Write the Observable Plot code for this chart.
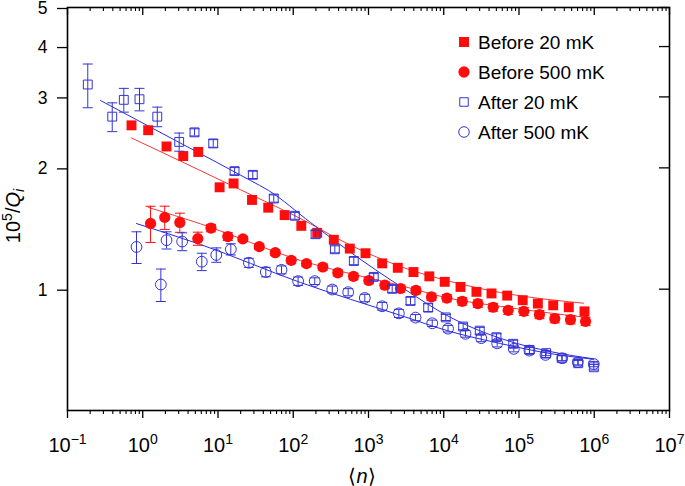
<!DOCTYPE html>
<html><head><meta charset="utf-8">
<script src="https://cdn.jsdelivr.net/npm/d3@7"></script>
<script src="https://cdn.jsdelivr.net/npm/@observablehq/plot@0.6"></script>
<style>
body{margin:0;background:#fff}
#chart svg{font-family:"Liberation Sans",Arial,Helvetica,sans-serif}
</style>
</head><body><div id="chart"></div>
<script>
// ---- data ----
const before20N = [0.709,1.18,2.07,3.45,5.46,10.5,16.1,28.3,46.5,76.9,128,208,346,564,912,1520,2450,3960,6430,10300,16700,27200,43100,69700,112000,178000,285000,459000,742000];
const before20Q = [2.55,2.48,2.26,2.14,2.19,1.79,1.83,1.665,1.593,1.527,1.436,1.380,1.326,1.261,1.228,1.159,1.130,1.103,1.076,1.043,1.013,0.985,0.976,0.964,0.939,0.921,0.912,0.902,0.881];

const before500N = [1.27,1.96,3.11,5.39,8.07,13.5,21.4,35.3,57.7,94.0,150,247,391,632,1010,1650,2660,4270,6870,11000,17600,28400,45400,71800,116000,187000,299000,483000,766000];
const before500Q = [1.456,1.507,1.464,1.335,1.418,1.351,1.333,1.275,1.232,1.179,1.157,1.135,1.098,1.076,1.051,1.023,1.004,0.993,0.957,0.950,0.933,0.921,0.902,0.886,0.881,0.865,0.845,0.840,0.832];
const before500Err = [0.15,0.10,0.08,0.05,0.03,0.03,0.02,0.02,0.02,0.02,0.02,0.02,0.02,0.02,0.02,0.02,0.02,0.02,0.02,0.02,0.02,0.02,0.02,0.02,0.02,0.02,0.02,0.02,0.02];

const after20N = [0.186,0.393,0.56,0.905,1.56,3.05,4.87,8.64,16.6,29.0,55.1,105,198,357,638,1175,2065,3615,6210,10640,18100,30100,50200,83700,137700,229600,370700,612000,986000];
const after20Q = [3.22,2.68,2.95,2.96,2.68,2.32,2.45,2.30,1.963,1.922,1.679,1.521,1.369,1.256,1.175,1.073,1.002,0.935,0.900,0.851,0.808,0.789,0.760,0.732,0.707,0.694,0.674,0.655,0.640];
const after20Err = [0.40,0.22,0.20,0.19,0.15,0.12,0.05,0.05,0.04,0.04,0.035,0.03,0.03,0.025,0.025,0.02,0.02,0.02,0.02,0.015,0.015,0.015,0.015,0.015,0.015,0.01,0.01,0.01,0.01];

const after500N = [0.826,1.74,2.07,3.34,6.09,9.49,14.8,25.7,43.2,69.8,116,193,330,537,893,1520,2530,4220,7030,11400,19450,31500,51300,85300,137700,225000,375000,604000,986000];
const after500Q = [1.273,1.027,1.323,1.313,1.170,1.216,1.256,1.163,1.103,1.117,1.047,1.047,0.998,0.983,0.951,0.907,0.871,0.850,0.823,0.798,0.775,0.756,0.734,0.711,0.704,0.687,0.674,0.659,0.652];
const after500Err = [0.115,0.095,0.065,0.067,0.058,0.05,0.04,0.03,0.03,0.025,0.025,0.02,0.02,0.02,0.02,0.02,0.02,0.015,0.015,0.015,0.015,0.015,0.015,0.012,0.012,0.012,0.01,0.01,0.01];

// fit curves
const fitBefore20N = [0.709,19.9,169.5,342.7,2663,12300,56750,719400];
const fitBefore20Q = [2.373,1.765,1.453,1.351,1.138,1.045,0.981,0.923];
const fitBefore500N = [1.192,5.85,124.8,2663,12300,56750,765500];
const fitBefore500Q = [1.595,1.453,1.178,1.021,0.948,0.906,0.852];
const fitAfter20N = [0.2745,2.72,27.0,46.9,169.5,576,2663,12300,56750,262400,977000];
const fitAfter20Q = [2.939,2.339,1.861,1.758,1.464,1.235,1.016,0.851,0.755,0.700,0.672];
const fitAfter500N = [0.826,5.85,124.8,2663,12300,56750,262400,977000];
const fitAfter500Q = [1.455,1.291,1.039,0.861,0.785,0.733,0.692,0.670];

const xTickValues = [1e-1,1e0,1e1,1e2,1e3,1e4,1e5,1e6,1e7];
const xTickExps = ["−1","0","1","2","3","4","5","6","7"];
const yTickValues = [1,2,3,4,5];
const legendLabels = ["Before 20 mK","Before 500 mK","After 20 mK","After 500 mK"];

// ---- build ----
const red = "#ff0d0d", redLine = "#f23a3a", blue = "#3333d6", blueLine = "#2a2ae0";
const rows = (N, Q, E) => N.map((n, i) => ({n, q: Q[i], lo: Q[i] - (E ? E[i] : 0), hi: Q[i] + (E ? E[i] : 0)}));
const line = (N, Q) => N.map((n, i) => ({n, q: Q[i]}));
const b20 = rows(before20N, before20Q), b500 = rows(before500N, before500Q, before500Err);
const a20 = rows(after20N, after20Q, after20Err), a500 = rows(after500N, after500Q, after500Err);

const W = 685, H = 486, mL = 67, mR = 16, mT = 7, mB = 76;
const plotW = W - mL - mR, plotH = H - mT - mB;
const xMinor = d3.scaleLog().domain([0.1, 1e7]).ticks().filter(v => !xTickValues.some(t => Math.abs(t - v) / t < 1e-9));
const expOf = d => xTickExps[Math.round(Math.log10(d)) + 1];
const cap = {draw(ctx, size) { const w = Math.sqrt(size / Math.PI); ctx.moveTo(-w, 0); ctx.lineTo(w, 0); }};
const errMarks = (data, color) => [
  Plot.ruleX(data, {x: "n", y1: "lo", y2: "hi", stroke: color, strokeWidth: 1}),
  Plot.dot(data, {x: "n", y: "lo", symbol: cap, r: 5, stroke: color, strokeWidth: 1}),
  Plot.dot(data, {x: "n", y: "hi", symbol: cap, r: 5, stroke: color, strokeWidth: 1})
];

const chart = Plot.plot({
  width: W, height: H,
  marginLeft: mL, marginRight: mR, marginTop: mT, marginBottom: mB,
  style: {fontFamily: "'Liberation Sans', Arial, Helvetica, sans-serif", fontSize: "18px", background: "#fff", color: "#000"},
  x: {type: "log", domain: [0.1, 1e7]},
  y: {type: "log", domain: [0.5, 5]},
  marks: [
    Plot.line(line(fitBefore20N, fitBefore20Q), {x: "n", y: "q", stroke: redLine, strokeWidth: 1, curve: "monotone-x"}),
    Plot.line(line(fitBefore500N, fitBefore500Q), {x: "n", y: "q", stroke: redLine, strokeWidth: 1, curve: "monotone-x"}),
    Plot.line(line(fitAfter20N, fitAfter20Q), {x: "n", y: "q", stroke: blueLine, strokeWidth: 1, curve: "monotone-x"}),
    Plot.line(line(fitAfter500N, fitAfter500Q), {x: "n", y: "q", stroke: blueLine, strokeWidth: 1, curve: "monotone-x"}),
    ...errMarks(b500, red),
    Plot.dot(b20, {x: "n", y: "q", symbol: "square", r: 5.6, fill: red}),
    Plot.dot(b500, {x: "n", y: "q", symbol: "circle", r: 5.6, fill: red}),
    ...errMarks(a20, blue),
    ...errMarks(a500, blue),
    Plot.dot(a20, {x: "n", y: "q", symbol: "square", r: 5.0, stroke: blue, fill: "none", strokeWidth: 1}),
    Plot.dot(a500, {x: "n", y: "q", symbol: "circle", r: 5.4, stroke: blue, fill: "none", strokeWidth: 1}),
    // axes
    Plot.axisY({anchor: "left", ticks: yTickValues, tickSize: 10, tickPadding: 10, tickFormat: d => String(d), label: null, fontSize: 17.5, dy: 1, strokeWidth: 1.3}),
    Plot.axisX({anchor: "bottom", ticks: xTickValues, tickSize: 8, tickPadding: 19, tickFormat: expOf, label: null, fontSize: 20, strokeWidth: 1.3}),
    Plot.axisX({anchor: "bottom", ticks: xMinor, tickSize: 4, tickFormat: () => "", label: null, strokeWidth: 1.1}),
    Plot.tickX(xTickValues, {x: d => d, insetBottom: plotH - 8, strokeWidth: 1.3}),
    Plot.tickX(xMinor, {x: d => d, insetBottom: plotH - 4, strokeWidth: 1.1}),
    Plot.tickY(yTickValues, {y: d => d, insetLeft: plotW - 10, strokeWidth: 1.3}),
    Plot.frame({stroke: "#000", strokeWidth: 1.6})
  ]
});

const svg = d3.select(chart);
// x tick labels as 10 with superscript exponent
svg.selectAll('g[aria-label="x-axis tick label"] text').each(function () {
  const t = d3.select(this); const e = t.text(); if (!e) return;
  t.text(null);
  t.append("tspan").text("10");
  t.append("tspan").attr("dy", -8).attr("font-size", "14px").text(e);
});
// y axis label
const yl = svg.append("text").attr("transform", "translate(20,216) rotate(-90)").attr("text-anchor", "middle").attr("font-size", "20px").attr("fill", "#000");
yl.append("tspan").text("10");
yl.append("tspan").attr("dy", -8).attr("font-size", "14px").text("5");
yl.append("tspan").attr("dy", 8).text("/");
yl.append("tspan").attr("font-style", "italic").text("Q");
yl.append("tspan").attr("dy", 4).attr("font-size", "14px").attr("font-style", "italic").text("i");
// x axis label
const xl = svg.append("text").attr("x", 362).attr("y", 483).attr("text-anchor", "middle").attr("font-size", "20px").attr("fill", "#000");
xl.append("tspan").text("⟨");
xl.append("tspan").attr("font-style", "italic").text("n");
xl.append("tspan").text("⟩");
// legend
const legY = [42, 72, 102, 132];
const legStyle = [
  {type: d3.symbolSquare, size: 100, fill: red, stroke: "none"},
  {type: d3.symbolCircle, size: 100, fill: red, stroke: "none"},
  {type: d3.symbolSquare, size: 72, fill: "none", stroke: blue},
  {type: d3.symbolCircle, size: 88, fill: "none", stroke: blue}
];
const lg = svg.append("g").attr("aria-label", "legend");
legendLabels.forEach((lab, i) => {
  const s = legStyle[i];
  lg.append("path").attr("d", d3.symbol(s.type, s.size)()).attr("transform", `translate(464,${legY[i]})`)
    .attr("fill", s.fill).attr("stroke", s.stroke).attr("stroke-width", 1);
  lg.append("text").attr("x", 478).attr("y", legY[i]).attr("dy", "0.36em").attr("text-anchor", "start")
    .attr("font-size", "19px").attr("fill", "#000").text(lab);
});
document.getElementById("chart").append(chart);
</script>
</body></html>
